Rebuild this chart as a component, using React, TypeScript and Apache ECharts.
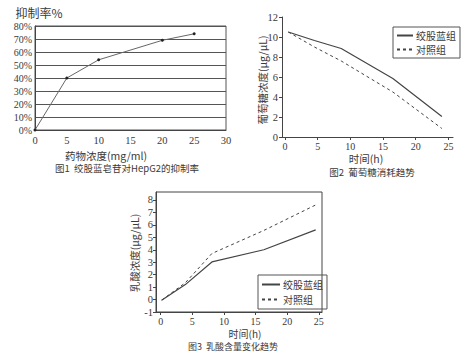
import React, { useEffect, useRef } from "react";
import * as echarts from "echarts";

// Figure 1: inhibition rate vs drug concentration
const fig1X = [0, 5, 10, 20, 25];
const fig1Y = [0, 40, 54, 69, 74];
const fig1XTicks = [0, 5, 10, 15, 20, 25, 30];

// Figure 2: glucose consumption
const fig2X = [0.5, 4.5, 8.6, 16.5, 24];
const fig2Treat = [10.5, 9.65, 8.85, 5.85, 2.05];
const fig2Ctrl = [10.5, 9.0, 7.6, 4.5, 0.85];
const fig2XTicks = [0, 5, 10, 15, 20, 25];
const fig2YTicks = [0, 2, 4, 6, 8, 10, 12];

// Figure 3: lactate content
const fig3X = [0.15, 3.9, 8.1, 16.3, 24.5];
const fig3Treat = [-0.05, 1.2, 3.02, 4.0, 5.6];
const fig3Ctrl = [-0.05, 1.35, 3.7, 5.55, 7.6];
const fig3XTicks = [0, 5, 10, 15, 20, 25];
const fig3YTicks = [-1, 0, 1, 2, 3, 4, 5, 6, 7, 8];

const seriesNames = ["绞股蓝组", "对照组"];

const SERIF = "'Liberation Serif', 'DejaVu Serif', serif";
const CJK = "'Noto Sans CJK SC', sans-serif";
const INK = "#3a3a3a";

export default function App() {
  const ref = useRef<HTMLDivElement>(null);
  useEffect(() => {
    if (!ref.current) return;
    const chart = echarts.init(ref.current, undefined, { renderer: "svg" });
    const pair = (xs: number[], ys: number[]) => xs.map((x, i) => [x, ys[i]]);
    const numLabel = (size: number, margin: number) => ({
      color: INK,
      fontFamily: SERIF,
      fontSize: size,
      margin,
    });
    const txt = (text: string, x: number, y: number, size: number, extra: any = {}) => ({
      type: "text",
      x,
      y,
      rotation: extra.rotation || 0,
      style: {
        text,
        fill: INK,
        font: `${size}px ${CJK}`,
        lineHeight: size + 1,
        textAlign: "center",
        textVerticalAlign: "middle",
      },
    });
    const legendBase = {
      data: seriesNames,
      orient: "vertical",
      borderColor: "#555",
      borderWidth: 1,
      selectedMode: false,
      itemStyle: { opacity: 0 },
      textStyle: { fontFamily: CJK, fontSize: 10, lineHeight: 11, color: INK, padding: [0, 0, 0, -2] },
    };
    chart.setOption({
      animation: false,
      backgroundColor: "#ffffff",
      grid: [
        { left: 35, top: 26, width: 191, height: 104, show: true, borderColor: "#555", borderWidth: 1, containLabel: false },
        { left: 282, top: 17, width: 171, height: 120, containLabel: false },
        { left: 156, top: 192, width: 166, height: 120, show: true, borderColor: "#444", borderWidth: 1, containLabel: false },
      ],
      xAxis: [
        {
          gridIndex: 0, type: "value", min: 0, max: 30, interval: 5,
          axisLine: { show: true, lineStyle: { color: "#444" } },
          axisTick: { show: false },
          splitLine: { show: false },
          axisLabel: { ...numLabel(10.5, 5), customValues: fig1XTicks },
        },
        {
          gridIndex: 1, type: "value", min: -0.46, max: 25.7,
          axisLine: { show: true, onZero: false, lineStyle: { color: "#444" } },
          axisTick: { show: true, length: 3, customValues: fig2XTicks, lineStyle: { color: "#444" } },
          splitLine: { show: false },
          axisLabel: { ...numLabel(10, 4), customValues: fig2XTicks },
        },
        {
          gridIndex: 2, type: "value", min: -0.74, max: 25.5,
          axisLine: { show: true, onZero: false, lineStyle: { color: "#444" } },
          axisTick: { show: true, length: 3, customValues: fig3XTicks, lineStyle: { color: "#444" } },
          splitLine: { show: false },
          axisLabel: { ...numLabel(10, 4), customValues: fig3XTicks },
        },
      ],
      yAxis: [
        {
          gridIndex: 0, type: "value", min: 0, max: 80, interval: 10,
          axisLine: { show: true, lineStyle: { color: "#444" } },
          axisTick: { show: false },
          splitLine: { show: true, lineStyle: { color: "#555", width: 1 } },
          axisLabel: { ...numLabel(10, 3), formatter: "{value}%" },
        },
        {
          gridIndex: 1, type: "value", min: 0, max: 12,
          axisLine: { show: true, onZero: false, lineStyle: { color: "#444" } },
          axisTick: { show: true, length: 3, customValues: fig2YTicks, lineStyle: { color: "#444" } },
          splitLine: { show: false },
          axisLabel: { ...numLabel(10.5, 4), customValues: fig2YTicks },
        },
        {
          gridIndex: 2, type: "value", min: -1, max: 8.64,
          axisLine: { show: true, onZero: false, lineStyle: { color: "#444" } },
          axisTick: { show: true, length: 3, customValues: fig3YTicks, lineStyle: { color: "#444" } },
          splitLine: { show: false },
          axisLabel: { ...numLabel(10.5, 3), customValues: fig3YTicks },
        },
      ],
      legend: [
        {
          ...legendBase, left: 393, top: 27,
          padding: [3, 4, 3, 3], itemGap: 3, itemWidth: 16, itemHeight: 8,
        },
        {
          ...legendBase, left: 258, top: 275,
          padding: [4, 4, 4, 3], itemGap: 4, itemWidth: 18, itemHeight: 8,
        },
      ],
      series: [
        {
          name: "抑制率", type: "line", xAxisIndex: 0, yAxisIndex: 0,
          data: pair(fig1X, fig1Y), smooth: false,
          symbol: "circle", symbolSize: 3,
          itemStyle: { color: "#222" },
          lineStyle: { color: "#666", width: 1 },
        },
        {
          name: seriesNames[0], type: "line", xAxisIndex: 1, yAxisIndex: 1,
          data: pair(fig2X, fig2Treat), symbol: "none",
          itemStyle: { color: "#444" },
          lineStyle: { color: "#444", width: 1.2, type: "solid" },
        },
        {
          name: seriesNames[1], type: "line", xAxisIndex: 1, yAxisIndex: 1,
          data: pair(fig2X, fig2Ctrl), symbol: "none",
          itemStyle: { color: "#444" },
          lineStyle: { color: "#444", width: 1, type: [3, 3] },
        },
        {
          name: seriesNames[0], type: "line", xAxisIndex: 2, yAxisIndex: 2,
          data: pair(fig3X, fig3Treat), symbol: "none",
          itemStyle: { color: "#444" },
          lineStyle: { color: "#444", width: 1.2, type: "solid" },
        },
        {
          name: seriesNames[1], type: "line", xAxisIndex: 2, yAxisIndex: 2,
          data: pair(fig3X, fig3Ctrl), symbol: "none",
          itemStyle: { color: "#444" },
          lineStyle: { color: "#444", width: 1, type: [3, 3] },
        },
      ],
      graphic: [
        txt("抑制率%", 39, 12, 12),
        txt("药物浓度(mg/ml)", 106, 155, 10.5),
        txt("图1  绞股蓝皂苷对HepG2的抑制率", 127, 168, 9.5),
        txt("葡萄糖浓度(μg/μL)", 262, 80, 10.5, { rotation: Math.PI / 2 }),
        txt("时间(h)", 366, 158, 10.5),
        txt("图2  葡萄糖消耗趋势", 372, 172, 9.5),
        txt("乳酸浓度(μg/μL)", 134, 253, 10.5, { rotation: Math.PI / 2 }),
        txt("时间(h)", 245, 333, 10),
        txt("图3  乳酸含量变化趋势", 233, 346, 9),
      ],
    });
    return () => chart.dispose();
  }, []);
  return (
    <div
      ref={ref}
      style={{ position: "fixed", left: 0, top: 0, width: 471, height: 357, background: "#fff" }}
    />
  );
}
